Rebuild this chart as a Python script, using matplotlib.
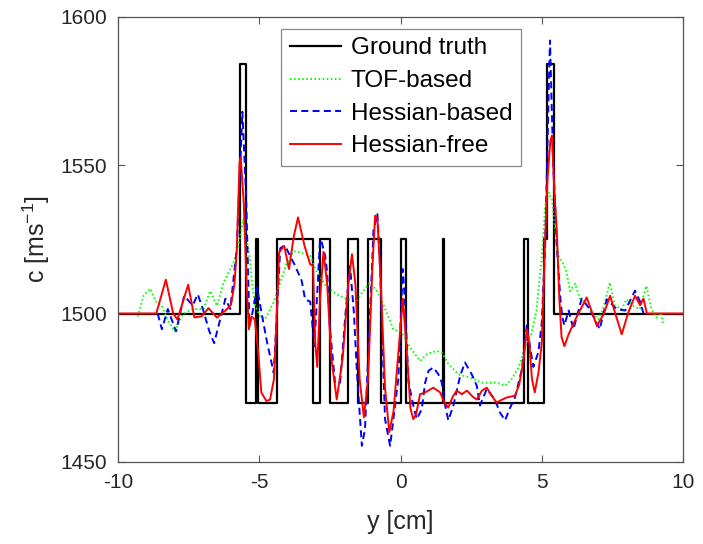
import matplotlib
matplotlib.use("Agg")
import matplotlib.pyplot as plt

plt.rcParams['font.family'] = ['Liberation Sans', 'DejaVu Sans']
plt.rcParams['axes.unicode_minus'] = False
plt.rcParams['mathtext.fontset'] = 'custom'
plt.rcParams['mathtext.rm'] = 'Liberation Sans'
plt.rcParams['mathtext.it'] = 'Liberation Sans'

# Ground truth (piecewise constant: edges and levels, steps-post)
gt_x = [-10, -5.69, -5.48, -5.12, -5.04, -4.39, -3.09, -2.87, -2.49, -1.87, -1.51,
        -1.14, -0.71, 0.03, 0.19, 1.49, 1.53, 4.37, 4.52, 5.07, 5.20, 5.43, 10]
gt_c = [1500, 1584, 1470, 1525, 1470, 1525, 1470, 1525, 1470, 1525, 1470,
        1525, 1470, 1525, 1470, 1525, 1470, 1525, 1470, 1525, 1584, 1500, 1500]

# TOF-based
tof_x = [-9.3, -9.1, -8.87, -8.64, -8.46, -8.2, -8.0, -7.85, -7.7, -7.34, -6.98, -6.74,
         -6.5, -6.27, -5.92, -5.74, -5.57, -5.45, -5.33, -5.25, -5.15, -4.97, -4.8,
         -4.5, -4.26, -4.03, -3.79, -3.56, -3.2, -2.97, -2.62, -2.26, -1.9, -1.55,
         -1.32, -1.08, -0.84, -0.61, -0.26, 0.04, 0.34, 0.69, 0.93, 1.28, 1.46, 1.69,
         2.05, 2.46, 2.88, 3.41, 3.7, 3.94, 4.17, 4.4, 4.64, 4.81, 5.0, 5.12, 5.24,
         5.36, 5.47, 5.59, 5.77, 5.88, 6.0, 6.18, 6.35, 6.53, 6.76, 7.0, 7.17, 7.41,
         7.59, 7.83, 8.0, 8.24, 8.47, 8.7, 8.88, 9.05, 9.23, 9.29]
tof_c = [1499, 1506, 1508.4, 1503.7, 1502.7, 1497, 1494, 1497, 1500, 1501.5, 1501.5, 1507.6,
         1502.6, 1510.4, 1517, 1522.8, 1531.8, 1525, 1518.3, 1509.3, 1502.6, 1499, 1498,
         1503.7, 1510.4, 1517, 1521, 1520.6, 1519.4, 1514, 1509, 1506.5, 1504.8, 1504.3,
         1507.6, 1510.4, 1507.6, 1503.1, 1494.7, 1493.6, 1488.5, 1484, 1486.3, 1487.4, 1486.9, 1483,
         1479.5, 1478.4, 1476.7, 1476.7, 1475.6, 1478, 1481.8, 1488, 1493.6, 1501, 1519.4, 1536.3, 1540.8,
         1538.5, 1528.4, 1519.4, 1516.6, 1513.8, 1507.6, 1510, 1505, 1503.7, 1500.3, 1498, 1501.5, 1510.4,
         1502.6, 1501.5, 1504.8, 1502.6, 1501.5, 1509.3, 1501.5, 1498.6, 1500.3, 1496.4]

# Hessian-based
hb_x = [-8.6, -8.45, -8.24, -7.95, -7.66, -7.36, -7.18, -7.0, -6.77, -6.6, -6.2, -6.03,
        -5.8, -5.6, -5.47, -5.35, -5.25, -5.08, -4.9, -4.72, -4.49, -4.38, -4.26, -4.14,
        -4.03, -3.73, -3.5, -3.38, -3.2, -3.05, -2.85, -2.79, -2.67, -2.6, -2.5, -2.32,
        -2.14, -1.95, -1.79, -1.65, -1.55, -1.37, -1.26, -1.08, -0.96, -0.82, -0.73,
        -0.55, -0.37, -0.08, 0.08, 0.16, 0.28, 0.45, 0.57, 0.75, 0.87, 0.99, 1.16, 1.34,
        1.46, 1.58, 1.69, 1.87, 2.11, 2.28, 2.52, 2.7, 2.81, 3.05, 3.34, 3.52, 3.7, 3.88,
        4.05, 4.29, 4.4, 4.47, 4.53, 4.7, 4.88, 5.0, 5.12, 5.24, 5.29, 5.4, 5.53, 5.65,
        5.72, 5.8, 5.95, 6.12, 6.41, 6.7, 7.05, 7.3, 7.65, 7.95, 8.3, 8.48, 8.6]
hb_c = [1500, 1494.7, 1501.5, 1494, 1506, 1502.7, 1506.5, 1501.5, 1494, 1490, 1505, 1501.5,
        1521.7, 1568, 1540, 1496, 1500, 1508.8, 1499, 1490, 1480, 1500, 1522, 1522.8,
        1521.7, 1516, 1511, 1504.8, 1504, 1489, 1525, 1524, 1519.4, 1514, 1495, 1476.7,
        1476.7, 1500, 1516, 1500, 1481, 1455.4, 1461, 1500, 1528, 1533.5, 1517,
        1464.4, 1455.4, 1478, 1515, 1503, 1477, 1469, 1464.4, 1467.7, 1476.7, 1480.7, 1481.8, 1479.5,
        1476.7, 1469, 1464, 1469, 1479, 1483.5, 1479.5, 1475.6, 1469, 1474.5, 1471, 1466.6, 1464, 1468.3,
        1471.7, 1481, 1490, 1496, 1492, 1482, 1487, 1497, 1523, 1573, 1592, 1552, 1523, 1506,
        1499, 1496, 1501, 1494.7, 1505, 1501.5, 1494.7, 1504.8, 1501.5, 1501, 1507.7, 1504, 1500]

# Hessian-free
hf_x = [-10, -8.65, -8.31, -8.05, -7.9, -7.52, -7.3, -7.05, -6.8, -6.5, -6.2, -6.0, -5.88,
        -5.8, -5.7, -5.66, -5.55, -5.45, -5.37, -5.28, -5.16, -5.04, -4.93, -4.75, -4.62,
        -4.48, -4.38, -4.3, -4.12, -3.95, -3.78, -3.63, -3.4, -3.2, -3.1, -3.02, -2.95,
        -2.85, -2.73, -2.6, -2.45, -2.26, -2.05, -1.85, -1.72, -1.6, -1.45, -1.3, -1.15,
        -1.0, -0.9, -0.82, -0.7, -0.55, -0.4, -0.25, -0.05, 0.08, 0.2, 0.35, 0.45, 0.55,
        0.69, 0.87, 1.16, 1.4, 1.55, 1.69, 1.85, 1.99, 2.17, 2.35, 2.55, 2.7, 2.88, 3.05,
        3.25, 3.4, 3.6, 3.76, 4.05, 4.2, 4.35, 4.47, 4.56, 4.65, 4.75, 4.88, 5.0, 5.1,
        5.2, 5.3, 5.36, 5.45, 5.53, 5.62, 5.7, 5.8, 5.95, 6.24, 6.59, 6.95, 7.2, 7.42,
        7.6, 7.83, 8.05, 8.3, 8.48, 8.6, 8.72, 10]
hf_c = [1500, 1500, 1511.4, 1500, 1498, 1509.7, 1498.7, 1499, 1501.8, 1498.6, 1501, 1503, 1510,
        1521, 1551, 1552.6, 1537, 1509.4, 1494.7, 1499, 1498, 1487, 1473.4, 1470.5, 1471,
        1478, 1500, 1520.6, 1522.8, 1515, 1526, 1532.4, 1522.8, 1516.6, 1516, 1490, 1482,
        1505, 1520.8, 1510, 1485, 1471, 1485, 1510, 1520, 1510, 1478, 1465, 1478,
        1515, 1533, 1532, 1510, 1475, 1460, 1467, 1490, 1505, 1490, 1468, 1464.4, 1466,
        1472.8, 1473.4, 1475, 1473.4, 1470, 1468.3, 1472, 1474, 1472.8, 1474, 1472, 1471, 1474, 1475,
        1472, 1470, 1471, 1471.7, 1472.3, 1476, 1484, 1494.7, 1490, 1478, 1473.4, 1480, 1490, 1520,
        1545, 1558, 1560, 1540, 1528, 1505, 1492, 1489, 1493, 1499, 1505.4, 1495.8, 1500, 1506,
        1500, 1493, 1500, 1506, 1502.8, 1505, 1500, 1500]

fig = plt.figure(figsize=(7.03, 5.44), dpi=100)
ax = fig.add_axes([0.168, 0.151, 0.8036, 0.8181])

ax.plot(gt_x, gt_c, color='black', lw=1.6, drawstyle='steps-post', label='Ground truth')
ax.plot(tof_x, tof_c, color='#00ff00', lw=1.4, linestyle=(0, (0.8, 1.3)), label='TOF-based')
ax.plot(hb_x, hb_c, color='#0000ff', lw=1.4, linestyle=(0, (3.6, 2.2)), label='Hessian-based')
ax.plot(hf_x, hf_c, color='#ff0000', lw=1.4, label='Hessian-free')

ax.set_xlim(-10, 10)
ax.set_ylim(1450, 1600)
ax.set_xticks([-10, -5, 0, 5, 10])
ax.set_yticks([1450, 1500, 1550, 1600])
ax.tick_params(direction='in', top=True, right=True, length=5, width=0.8,
               labelsize=15, color='#555555', labelcolor='#262626', pad=8)
for s in ax.spines.values():
    s.set_color('#555555')
    s.set_linewidth(0.9)

ax.set_xlabel('y [cm]', fontsize=18, color='#262626', labelpad=13)
ax.set_ylabel(r'c [ms$^{\mathregular{-1}}$]', fontsize=18, color='#262626', labelpad=6)

leg = ax.legend(loc='upper left', bbox_to_anchor=(0.289, 0.973), fontsize=17.5,
                frameon=True, fancybox=False, edgecolor='#888888', framealpha=1,
                handlelength=2.1, handletextpad=0.4, labelspacing=0.44,
                borderpad=0.35, borderaxespad=0)
leg.get_frame().set_linewidth(0.9)

fig.savefig('out.png', dpi=100)
